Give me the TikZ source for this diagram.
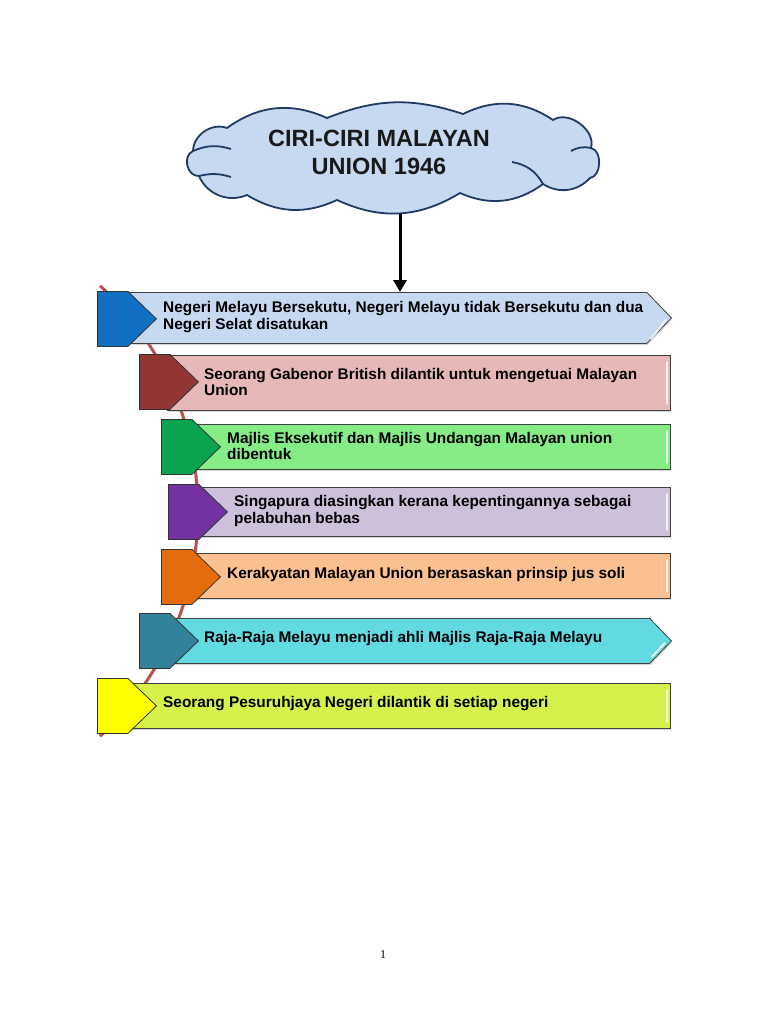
\documentclass[tikz,border=0pt]{standalone}
\usepackage{fontspec}
\setmainfont{Liberation Sans}
\newfontfamily\pageserif{Liberation Serif}
\usetikzlibrary{shapes.symbols,arrows.meta,shadows}

\definecolor{cloudfill}{HTML}{C6D9F1}
\definecolor{cloudline}{HTML}{1F3A63}
\definecolor{curvered}{HTML}{B9514E}
\definecolor{tabblue}{HTML}{1170C2}
\definecolor{tabred}{HTML}{923633}
\definecolor{tabgreen}{HTML}{0BA44E}
\definecolor{tabpurple}{HTML}{7232A0}
\definecolor{taborange}{HTML}{E36C0C}
\definecolor{tabteal}{HTML}{31829A}
\definecolor{tabyellow}{HTML}{FFFF00}
\definecolor{barblue}{HTML}{C6D9F1}
\definecolor{barred}{HTML}{E6B9B8}
\definecolor{bargreen}{HTML}{86EC86}
\definecolor{barpurple}{HTML}{CCC0DA}
\definecolor{barorange}{HTML}{FAC090}
\definecolor{barteal}{HTML}{62DAE2}
\definecolor{baryellow}{HTML}{D6F04C}

\tikzset{
  puff/.style={cloudline, line width=1.8pt, line join=round},
  bar/.style={draw=black!75, line width=0.8pt, inner sep=0pt, anchor=north west,
    drop shadow={shadow xshift=1pt, shadow yshift=-1.5pt, opacity=0.3}},
  pointed/.style={signal, signal to=east, signal pointer angle=92},
  tab/.style={signal, signal to=east, signal pointer angle=88, draw=black!80,
    line width=0.8pt, inner sep=0pt, minimum width=59pt, minimum height=55pt,
    anchor=north west},
  gloss/.style={white, opacity=0.8, line width=2pt, line cap=round},
  itemtext/.style={anchor=west, align=left, inner sep=0pt,
    font=\fontsize{15.4}{16.5}\selectfont\bfseries}
}

\begin{document}
\begin{tikzpicture}[x=1pt, y=-1pt]
  \fill[white] (0,0) rectangle (768,1024);
  \useasboundingbox (0,0) rectangle (768,1024);

  % title cloud
  \draw[puff, fill=cloudfill] (463,114) to[bend left=30] (553,120)
    to[bend left=70] (591,148) to[bend left=80] (590,178)
    to[bend left=40] (543,184) to[bend left=30] (460,193) to[bend left=28] (337,200)
    to[bend left=28] (247,195) to[bend left=45] (199,176)
    to[bend left=80, looseness=1.2] (193,151) to[bend left=55] (227,128)
    to[bend left=30] (327,118) to[bend left=20] (463,114) -- cycle;
  \draw[puff] (193,151) to[bend left=20] (231,149);
  \draw[puff] (199,176) to[bend left=15] (231,177);
  \draw[puff] (571,151) to[bend left=20] (591,148);
  \draw[puff] (512,162) to[bend left=25] (543,184);
  \node[align=center, font=\fontsize{23.5}{28}\selectfont\bfseries,
    text=black!90] (title) at (379,152) {CIRI-CIRI MALAYAN\\UNION 1946};

  % curve behind the list
  \draw[curvered, line width=3pt] plot[domain=-47:47, samples=60]
    ({-110+308*cos(\x)}, {511+308*sin(\x)});

  % bars
  \node[bar, pointed, fill=barblue, minimum width=544pt, minimum height=51pt] (b1) at (127,292) {};
  \node[bar, fill=barred, minimum width=503pt, minimum height=55pt] (b2) at (167,355) {};
  \node[bar, fill=bargreen, minimum width=480pt, minimum height=45pt] (b3) at (190,424) {};
  \node[bar, fill=barpurple, minimum width=473pt, minimum height=49pt] (b4) at (197,487) {};
  \node[bar, fill=barorange, minimum width=480pt, minimum height=45pt] (b5) at (190,553) {};
  \node[bar, pointed, fill=barteal, minimum width=503pt, minimum height=45pt] (b6) at (168,618) {};
  \node[bar, fill=baryellow, minimum width=543pt, minimum height=45pt] (b7) at (127,683) {};

  % highlights on the right ends
  \draw[gloss] ([shift={(-6,2)}]b1.east) -- ([shift={(-21,21)}]b1.east);
  \draw[gloss] ([shift={(-4,7)}]b2.north east) -- ([shift={(-4,-7)}]b2.south east);
  \draw[gloss] ([shift={(-4,7)}]b3.north east) -- ([shift={(-4,-7)}]b3.south east);
  \draw[gloss] ([shift={(-4,7)}]b4.north east) -- ([shift={(-4,-7)}]b4.south east);
  \draw[gloss] ([shift={(-4,7)}]b5.north east) -- ([shift={(-4,-7)}]b5.south east);
  \draw[gloss] ([shift={(-7,2)}]b6.east) -- ([shift={(-20,16)}]b6.east);
  \draw[gloss] ([shift={(-4,7)}]b7.north east) -- ([shift={(-4,-7)}]b7.south east);

  % tabs
  \node[tab, fill=tabblue] (a1) at (97,291) {};
  \node[tab, fill=tabred] (a2) at (139,354) {};
  \node[tab, fill=tabgreen] (a3) at (161,419) {};
  \node[tab, fill=tabpurple] (a4) at (168,484) {};
  \node[tab, fill=taborange] (a5) at (161,549) {};
  \node[tab, fill=tabteal] (a6) at (139,613) {};
  \node[tab, fill=tabyellow] (a7) at (97,678) {};

  % texts
  \node[itemtext] (t1) at (163,317) {Negeri Melayu Bersekutu, Negeri Melayu tidak Bersekutu dan dua\\Negeri Selat disatukan};
  \node[itemtext] (t2) at (204,382) {Seorang Gabenor British dilantik untuk mengetuai Malayan\\Union};
  \node[itemtext] (t3) at (227,446) {Majlis Eksekutif dan Majlis Undangan Malayan union\\dibentuk};
  \node[itemtext] (t4) at (234,511) {Singapura diasingkan kerana kepentingannya sebagai\\pelabuhan bebas};
  \node[itemtext] (t5) at (227,575) {Kerakyatan Malayan Union berasaskan prinsip jus soli};
  \node[itemtext] (t6) at (204,639) {Raja-Raja Melayu menjadi ahli Majlis Raja-Raja Melayu};
  \node[itemtext] (t7) at (163,704) {Seorang Pesuruhjaya Negeri dilantik di setiap negeri};

  % arrow from cloud to first bar
  \coordinate (arrowtop) at (400,214);
  \draw[line width=3pt, -{Triangle[length=12pt, width=13pt]}] (arrowtop) -- (arrowtop |- b1.north);

  \node[font=\fontsize{12}{12}\selectfont\pageserif] (pagenum) at (383,955) {1};
\end{tikzpicture}
\end{document}
